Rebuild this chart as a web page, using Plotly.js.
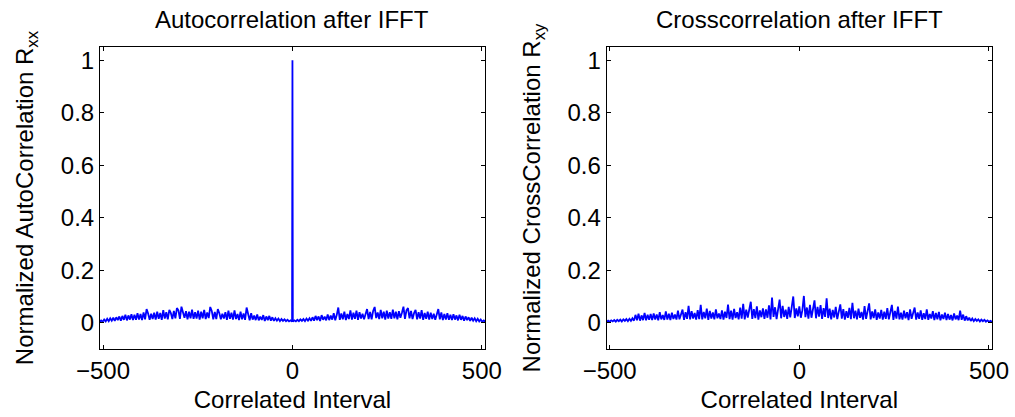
<!DOCTYPE html>
<html><head><meta charset="utf-8">
<script src="https://cdn.plot.ly/plotly-3.0.1.min.js"></script>
<style>html,body{margin:0;padding:0;background:#fff}#chart{width:1015px;height:417px}</style>
</head><body><div id="chart"></div>
<script>
// ---- data ----
const subplotTitles = ["Autocorrelation after IFFT", "Crosscorrelation after IFFT"];
const xAxisTitle = "Correlated Interval";
const yAxisTitles = ["Normalized AutoCorrelation R<sub>xx</sub>", "Normalized CrossCorrelation R<sub>xy</sub>"];
const xTickValues = [-500, 0, 500];
const yTickValues = [0, 0.2, 0.4, 0.6, 0.8, 1];

// Autocorrelation at lag 0
const rxxPeak = 1;
// Autocorrelation for positive lags 1, 5, 9, ... 509 (symmetric: R(-k) = R(k))
const rxxPositive = [
  0.004,0.009,0.005,0.011,0.006,0.013,0.007,0.014,0.006,0.016,0.008,0.017,0.007,
  0.021,0.008,0.026,0.010,0.024,0.007,0.029,0.011,0.023,0.009,0.031,0.010,0.027,
  0.012,0.036,0.009,0.030,0.058,0.011,0.035,0.013,0.042,0.010,0.033,0.014,0.047,
  0.012,0.038,0.015,0.046,0.011,0.040,0.016,0.034,0.013,0.036,0.052,0.014,0.041,
  0.013,0.045,0.060,0.018,0.039,0.014,0.049,0.017,0.042,0.012,0.046,0.016,0.040,
  0.015,0.050,0.017,0.042,0.013,0.044,0.019,0.038,0.061,0.015,0.047,0.056,0.017,
  0.045,0.014,0.037,0.049,0.013,0.040,0.016,0.048,0.011,0.037,0.015,0.042,0.012,
  0.038,0.014,0.034,0.011,0.035,0.052,0.013,0.039,0.010,0.033,0.012,0.036,0.011,
  0.030,0.010,0.032,0.012,0.028,0.009,0.030,0.011,0.026,0.008,0.024,0.010,0.021,
  0.007,0.019,0.008,0.017,0.006,0.015,0.005,0.012,0.004,0.009,0.003
];
// Crosscorrelation for lags -508, -504, ... 508
const rxyValues = [
  0.003,0.008,0.004,0.009,0.005,0.010,0.004,0.011,0.006,0.012,0.005,0.013,0.007,0.014,0.006,
  0.015,0.007,0.017,0.008,0.030,0.009,0.034,0.008,0.028,0.010,0.037,0.009,0.030,0.011,0.033,
  0.010,0.035,0.012,0.031,0.009,0.040,0.013,0.029,0.011,0.043,0.012,0.034,0.010,0.038,0.014,
  0.031,0.012,0.046,0.013,0.036,0.050,0.011,0.040,0.015,0.064,0.013,0.044,0.016,0.037,0.012,
  0.048,0.014,0.068,0.013,0.041,0.017,0.054,0.011,0.045,0.016,0.039,0.013,0.051,0.017,0.035,
  0.014,0.047,0.012,0.042,0.018,0.069,0.014,0.046,0.012,0.053,0.018,0.040,0.013,0.058,0.016,
  0.072,0.013,0.050,0.020,0.057,0.080,0.015,0.052,0.018,0.062,0.012,0.047,0.021,0.055,0.015,
  0.051,0.019,0.066,0.013,0.096,0.022,0.059,0.014,0.053,0.088,0.017,0.064,0.022,0.050,0.015,
  0.060,0.020,0.070,0.100,0.018,0.055,0.024,0.062,0.019,0.048,0.102,0.021,0.058,0.016,0.068,
  0.019,0.052,0.085,0.017,0.060,0.023,0.067,0.015,0.056,0.022,0.093,0.018,0.054,0.013,0.049,
  0.020,0.060,0.014,0.047,0.070,0.016,0.052,0.012,0.044,0.019,0.057,0.014,0.076,0.017,0.046,
  0.013,0.054,0.019,0.041,0.012,0.063,0.015,0.048,0.074,0.013,0.043,0.018,0.051,0.011,0.039,
  0.016,0.049,0.012,0.042,0.015,0.056,0.013,0.036,0.068,0.011,0.045,0.016,0.061,0.013,0.038,
  0.012,0.046,0.017,0.040,0.010,0.051,0.015,0.034,0.058,0.012,0.039,0.015,0.047,0.011,0.036,
  0.014,0.051,0.011,0.033,0.016,0.044,0.010,0.037,0.013,0.041,0.009,0.031,0.014,0.038,0.010,
  0.033,0.012,0.029,0.009,0.035,0.013,0.027,0.010,0.046,0.011,0.031,0.008,0.025,0.009,0.019,
  0.007,0.016,0.006,0.014,0.007,0.013,0.005,0.012,0.006,0.011,0.004,0.009,0.004,0.007,0.003
];

// ---- lag axes (sample positions) ----
const rxxPosLags = rxxPositive.map((_, i) => 1 + 4 * i);
const rxxLags = rxxPosLags.slice().reverse().map(l => -l).concat([0], rxxPosLags);
const rxxValues = rxxPositive.slice().reverse().concat([rxxPeak], rxxPositive);
const rxyLags = rxyValues.map((_, i) => -508 + 4 * i);

const FONT = 'Liberation Sans, Arial, Helvetica, sans-serif';
const lineStyle = {color: '#0000ff', width: 1.8};

const traces = [
  {x: rxxLags, y: rxxValues, type: 'scatter', mode: 'lines', line: lineStyle, xaxis: 'x', yaxis: 'y', hoverinfo: 'x+y'},
  {x: rxyLags, y: rxyValues, type: 'scatter', mode: 'lines', line: lineStyle, xaxis: 'x2', yaxis: 'y2', hoverinfo: 'x+y'}
];

function xAxis(domain, anchor) {
  return {
    domain: domain, anchor: anchor, range: [-508, 508],
    tickmode: 'array', tickvals: xTickValues,
    ticks: 'inside', ticklen: 4, tickwidth: 1, tickcolor: '#000',
    showline: true, linecolor: '#000', linewidth: 1, mirror: 'ticks',
    showgrid: false, zeroline: false,
    tickfont: {family: FONT, size: 24, color: '#000'},
    title: {text: xAxisTitle, font: {family: FONT, size: 24, color: '#000'}, standoff: 8}
  };
}
function yAxis(anchor, title) {
  return {
    domain: [0, 1], anchor: anchor, range: [-0.1, 1.05],
    tickmode: 'array', tickvals: yTickValues,
    ticks: 'inside', ticklen: 4, tickwidth: 1, tickcolor: '#000',
    showline: true, linecolor: '#000', linewidth: 1, mirror: 'ticks',
    showgrid: false, zeroline: false,
    tickfont: {family: FONT, size: 24, color: '#000'},
    title: {text: title, font: {family: FONT, size: 24, color: '#000'}, standoff: 20}
  };
}

const layout = {
  width: 1015, height: 417,
  margin: {l: 100, r: 23, t: 47, b: 68, pad: 0},
  paper_bgcolor: '#fff', plot_bgcolor: '#fff',
  showlegend: false,
  font: {family: FONT, size: 24, color: '#000'},
  xaxis: xAxis([0, 0.4315], 'y'),
  yaxis: yAxis('x', yAxisTitles[0]),
  xaxis2: xAxis([0.568, 1], 'y2'),
  yaxis2: yAxis('x2', yAxisTitles[1]),
  annotations: subplotTitles.map((t, i) => ({
    text: t, showarrow: false,
    xref: (i === 0 ? 'x' : 'x2') + ' domain', yref: (i === 0 ? 'y' : 'y2') + ' domain',
    x: 0.5, y: 1, xanchor: 'center', yanchor: 'bottom', yshift: 12,
    font: {family: FONT, size: 24, color: '#000'}
  }))
};

Plotly.newPlot('chart', traces, layout, {displayModeBar: false, staticPlot: true});
</script>
</body></html>
